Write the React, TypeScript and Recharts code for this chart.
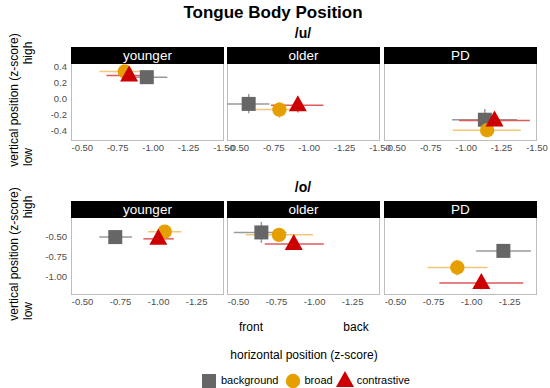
import React from 'react';
import { ScatterChart, Scatter, XAxis, YAxis, ErrorBar } from 'recharts';

const groups = ['younger', 'older', 'PD'];
const vowels = ['/u/', '/o/'];
const categories = ['background', 'broad', 'contrastive'];

// one row per group (younger, older, PD): x, y, xLo, xHi, yLo, yHi
const uBackground = [
  [-0.955, 0.27, -0.84, -1.1, 0.24, 0.3],
  [-0.573, -0.063, -0.42, -0.72, 0.06, -0.18],
  [-1.132, -0.26, -0.9, -1.36, -0.125, -0.36],
];
const uBroad = [
  [-0.8, 0.34, -0.62, -0.97, 0.31, 0.37],
  [-0.79, -0.134, -0.62, -0.96, -0.04, -0.24],
  [-1.148, -0.39, -0.905, -1.385, -0.31, -0.47],
];
const uContrastive = [
  [-0.83, 0.29, -0.67, -1.0, 0.26, 0.32],
  [-0.92, -0.08, -0.73, -1.1, 0.02, -0.17],
  [-1.2, -0.27, -0.95, -1.45, -0.24, -0.3],
];
const oBackground = [
  [-0.715, -0.508, -0.61, -0.825, -0.47, -0.54],
  [-0.65, -0.45, -0.468, -0.815, -0.32, -0.58],
  [-1.209, -0.68, -1.03, -1.39, -0.65, -0.71],
];
const oBroad = [
  [-1.04, -0.44, -0.93, -1.15, -0.41, -0.47],
  [-0.766, -0.48, -0.547, -0.99, -0.45, -0.51],
  [-0.906, -0.887, -0.709, -1.104, -0.79, -0.99],
];
const oContrastive = [
  [-0.998, -0.53, -0.9, -1.1, -0.5, -0.6],
  [-0.863, -0.595, -0.672, -1.06, -0.56, -0.63],
  [-1.064, -1.08, -0.788, -1.34, -1.05, -1.16],
];

const uXTicks = [-0.5, -0.75, -1, -1.25, -1.5];
const uYTicks = [-0.4, -0.2, 0, 0.2, 0.4];
const oXTicks = [-0.5, -0.75, -1, -1.25];
const oYTicks = [-1, -0.75, -0.5];

const colors: Record<string, string> = {
  background: '#666666',
  broad: '#E69F00',
  contrastive: '#CC0000',
};
const barColors: Record<string, string> = {
  background: '#9A9A9A',
  broad: '#F2C878',
  contrastive: '#E05A5A',
};

const rows = [
  {
    vowel: vowels[0],
    series: [uBackground, uBroad, uContrastive],
    xDomain: [-1.5, -0.42],
    yDomain: [-0.525, 0.434],
    xTicks: uXTicks,
    yTicks: uYTicks,
    yDigits: 1,
    top: 0,
  },
  {
    vowel: vowels[1],
    series: [oBackground, oBroad, oContrastive],
    xDomain: [-1.43, -0.424],
    yDomain: [-1.23, -0.27],
    xTicks: oXTicks,
    yTicks: oYTicks,
    yDigits: 2,
    top: 154,
  },
];

const PANEL_LEFT = [71, 227, 384];
const PANEL_W = 153;
const STRIP_TOP = 47;
const STRIP_H = 17;
const PLOT_H = 77;
const AXIS_W = 40;

const toPoint = (r: number[]) => {
  const [x, y, xLo, xHi, yLo, yHi] = r;
  return {
    x,
    y,
    ex: [x - Math.min(xLo, xHi), Math.max(xLo, xHi) - x],
    ey: [y - Math.min(yLo, yHi), Math.max(yLo, yHi) - y],
  };
};

const marker = (cat: string, cx: number, cy: number) => {
  const fill = colors[cat];
  if (cat === 'background')
    return <rect x={cx - 7} y={cy - 7} width={14} height={14} fill={fill} />;
  if (cat === 'broad') return <circle cx={cx} cy={cy} r={7.2} fill={fill} />;
  return <polygon points={`${cx},${cy - 10} ${cx - 9},${cy + 6} ${cx + 9},${cy + 6}`} fill={fill} />;
};

const Panel = ({ row, gi }: { row: any; gi: number }) => {
  const left = PANEL_LEFT[gi];
  const top = row.top + STRIP_TOP + STRIP_H;
  return (
    <>
      <div
        style={{
          position: 'absolute',
          left,
          top: row.top + STRIP_TOP,
          width: PANEL_W,
          height: STRIP_H + PLOT_H,
          boxSizing: 'border-box',
          border: '1.5px solid #BDBDBD',
        }}
      />
      <div style={{ position: 'absolute', left: left - AXIS_W, top }}>
        <ScatterChart
          width={AXIS_W + PANEL_W + 14}
          height={PLOT_H + 16}
          margin={{ top: 0, right: 14, bottom: 0, left: 0 }}
        >
          <XAxis
            type="number"
            dataKey="x"
            domain={row.xDomain}
            allowDataOverflow
            reversed
            ticks={row.xTicks}
            tickFormatter={(v: number) => v.toFixed(2)}
            tick={{ fontSize: 9.5, fill: '#4D4D4D' }}
            tickLine={false}
            axisLine={false}
            tickSize={0}
            tickMargin={3}
            height={16}
            interval={0}
          />
          <YAxis
            type="number"
            dataKey="y"
            domain={row.yDomain}
            allowDataOverflow
            ticks={row.yTicks}
            tickFormatter={(v: number) => v.toFixed(row.yDigits)}
            tick={gi === 0 ? { fontSize: 9.5, fill: '#4D4D4D' } : false}
            tickLine={false}
            axisLine={false}
            tickSize={0}
            tickMargin={4}
            width={AXIS_W}
            interval={0}
          />
          {categories.map((cat, ci) => (
            <Scatter
              key={cat}
              data={[toPoint(row.series[ci][gi])]}
              isAnimationActive={false}
              shape={(p: any) => marker(cat, p.cx, p.cy)}
            >
              <ErrorBar dataKey="ex" direction="x" width={0} stroke={barColors[cat]} strokeWidth={1.5} isAnimationActive={false} />
              <ErrorBar dataKey="ey" direction="y" width={0} stroke={barColors[cat]} strokeWidth={1.5} isAnimationActive={false} />
            </Scatter>
          ))}
        </ScatterChart>
      </div>
      <div
        style={{
          position: 'absolute',
          left,
          top: row.top + STRIP_TOP,
          width: PANEL_W,
          height: STRIP_H,
          background: '#000',
          color: '#fff',
          fontSize: 13.5,
          lineHeight: `${STRIP_H}px`,
          textAlign: 'center',
        }}
      >
        {groups[gi]}
      </div>
    </>
  );
};

const Rot = ({ text, cx, cy }: { text: string; cx: number; cy: number }) => (
  <div
    style={{
      position: 'absolute',
      left: cx - 100,
      top: cy - 8,
      width: 200,
      height: 16,
      lineHeight: '16px',
      textAlign: 'center',
      fontSize: 12,
      transform: 'rotate(-90deg)',
    }}
  >
    {text}
  </div>
);

const Label = ({ text, cx, cy, size = 12, bold = false }: any) => (
  <div
    style={{
      position: 'absolute',
      left: cx - 150,
      top: cy - 10,
      width: 300,
      height: 20,
      lineHeight: '20px',
      textAlign: 'center',
      fontSize: size,
      fontWeight: bold ? 'bold' : 'normal',
    }}
  >
    {text}
  </div>
);

const LegendIcon = ({ cat }: { cat: string }) => (
  <svg width={20} height={18} style={{ display: 'block' }}>
    {marker(cat, 10, 10)}
  </svg>
);

export default function App() {
  return (
    <div
      style={{
        position: 'absolute',
        left: 0,
        top: 0,
        width: 550,
        height: 388,
        background: '#fff',
        fontFamily: '"Liberation Sans", Arial, sans-serif',
        color: '#000',
        overflow: 'hidden',
      }}
    >
      <Label text="Tongue Body Position" cx={273} cy={12.5} size={17} bold />
      {rows.map((row) => (
        <React.Fragment key={row.vowel}>
          <Label text={row.vowel} cx={303} cy={33 + row.top} size={14} bold />
          <Rot text="vertical position (z-score)" cx={14} cy={100 + row.top} />
          <Rot text="high" cx={28} cy={53 + row.top} />
          <Rot text="low" cx={28} cy={157 + row.top} />
          {groups.map((g, gi) => (
            <Panel key={g} row={row} gi={gi} />
          ))}
        </React.Fragment>
      ))}
      <Label text="front" cx={251} cy={327} />
      <Label text="back" cx={356} cy={327} />
      <Label text="horizontal position (z-score)" cx={304} cy={355} />
      <div
        style={{
          position: 'absolute',
          left: 199,
          top: 370,
          display: 'flex',
          alignItems: 'center',
          fontSize: 11,
          height: 20,
        }}
      >
        <LegendIcon cat="background" />
        <span style={{ marginLeft: 2, marginRight: 4 }}>background</span>
        <LegendIcon cat="broad" />
        <span style={{ marginLeft: 2, marginRight: 2 }}>broad</span>
        <LegendIcon cat="contrastive" />
        <span style={{ marginLeft: 2 }}>contrastive</span>
      </div>
    </div>
  );
}
